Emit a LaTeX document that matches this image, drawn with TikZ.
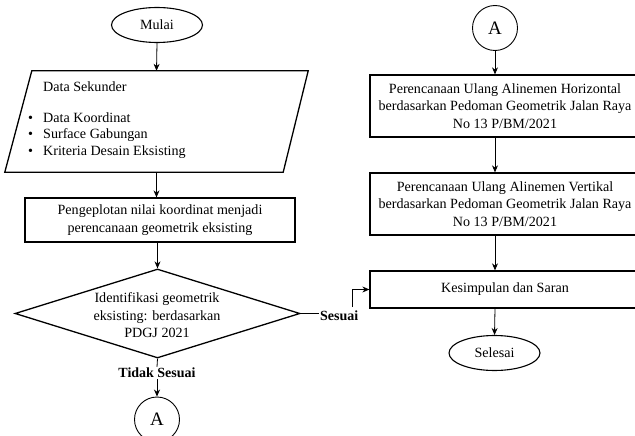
\documentclass[tikz,border=0pt]{standalone}
\usepackage{fontspec}
\setmainfont{Liberation Serif}
\usetikzlibrary{shapes.geometric,arrows.meta,calc}
\begin{document}
\begin{tikzpicture}[x=1pt,y=-1pt,
  every node/.style={font=\fontsize{14.1}{17.5}\selectfont, inner sep=0pt},
  term/.style={draw, ellipse, line width=1.1pt, minimum width=91pt, minimum height=35pt},
  conn/.style={draw, circle, line width=0.9pt, minimum size=45pt, font=\fontsize{19}{19}\selectfont},
  proc/.style={draw, rectangle, line width=1.3pt, align=center},
  arr/.style={-{Stealth[length=7pt,width=6pt]}, line width=0.8pt},
  lbl/.style={font=\fontsize{14}{16}\selectfont\bfseries, fill=white, inner sep=1pt}
]
\useasboundingbox (0,0) rectangle (635,436);

% left column
\node[term] (mulai) at (157,25) {Mulai};
\node[minimum width=303pt, minimum height=101pt] (data) at (156.5,121.5) {};
\draw[line width=1.3pt] ($(data.north west)+(27,0)$) -- (data.north east)
  -- ($(data.south east)+(-25,0)$) -- (data.south west) -- cycle;
\node[anchor=base west] (ds) at (43,92) {Data Sekunder};
\node[anchor=base west] (b1) at (28,122) {\makebox[15pt][l]{\textbullet}Data Koordinat};
\node[anchor=base west] (b2) at (28,138.5) {\makebox[15pt][l]{\textbullet}Surface Gabungan};
\node[anchor=base west] (b3) at (28,155) {\makebox[15pt][l]{\textbullet}Kriteria Desain Eksisting};

\node[proc, minimum width=270pt, minimum height=44pt] (peng) at (160,220)
  {Pengeplotan nilai koordinat menjadi\\perencanaan geometrik eksisting};

\node[draw, diamond, line width=1.3pt, minimum width=285pt, minimum height=89pt] (dia) at (157.5,313.5) {};
\node[align=center] (diatext) at (157,315.5) {Identifikasi geometrik\\eksisting: berdasarkan\\PDGJ 2021};

\node[lbl] (tidak) at (157,373) {Tidak Sesuai};
\node[conn] (A1) at (157,419.5) {A};

\node[lbl, anchor=west] (sesuai) at (319,316) {Sesuai};
\coordinate (s1) at (352,307);

% right column
\node[conn] (A2) at (495,28) {A};
\node[proc, minimum width=270pt, minimum height=62pt] (hor) at (505,106)
  {Perencanaan Ulang Alinemen Horizontal\\berdasarkan Pedoman Geometrik Jalan Raya\\No 13 P/BM/2021};
\node[proc, minimum width=270pt, minimum height=62pt] (ver) at (505,204)
  {Perencanaan Ulang Alinemen Vertikal\\berdasarkan Pedoman Geometrik Jalan Raya\\No 13 P/BM/2021};
\node[proc, minimum width=270pt, minimum height=37pt] (kes) at (505,289.5)
  {Kesimpulan dan Saran};
\node[term] (selesai) at (494.5,353) {Selesai};

% connectors
\draw[arr] (mulai.south) -- (data.north);
\draw[arr] (data.south) -- (data.south |- peng.north);
\draw[arr] (dia.north |- peng.south) -- (dia.north);
\draw[line width=0.8pt] (dia.south) -- (tidak.north);
\draw[arr] (tidak.south) -- (A1.north);
\draw[line width=0.8pt] (dia.east) -- (dia.east -| sesuai.west);
\draw[arr] (s1) |- (kes.west);

\draw[arr] (A2.south) -- (A2.south |- hor.north);
\draw[arr] (A2.south |- hor.south) -- (A2.south |- ver.north);
\draw[arr] (A2.south |- ver.south) -- (A2.south |- kes.north);
\draw[arr] (A2.south |- kes.south) -- (selesai.north);
\end{tikzpicture}
\end{document}
